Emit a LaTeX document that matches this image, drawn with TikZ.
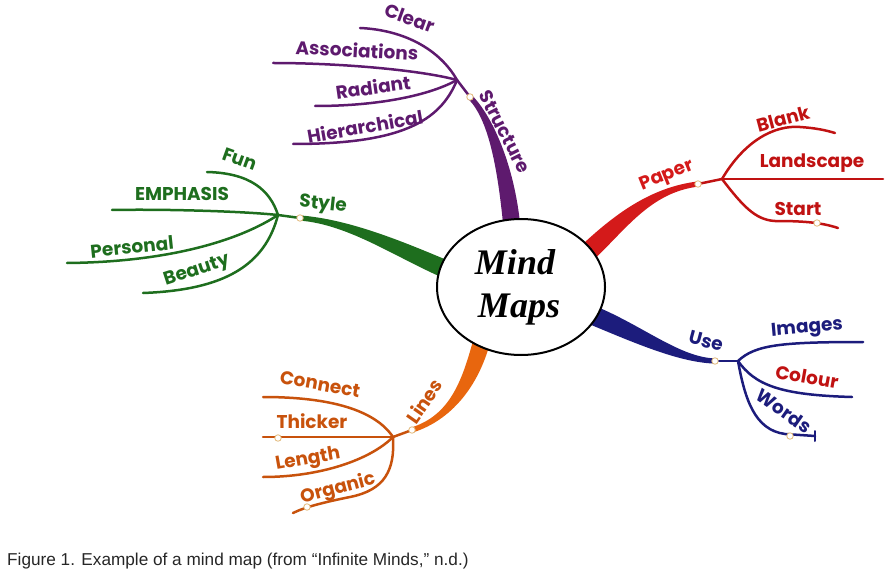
\documentclass[tikz,border=0pt]{standalone}
\usepackage{fontspec}
\setmainfont{Liberation Serif}
\newfontfamily\hand{Poppins}
\newfontfamily\capfont{Liberation Sans}
\usetikzlibrary{calc,shapes.geometric}
\definecolor{cpurple}{HTML}{5E1A6E}
\definecolor{cred}{HTML}{D41A1A}
\definecolor{cdred}{HTML}{C01212}
\definecolor{cgreen}{HTML}{1E6E1E}
\definecolor{cnavy}{HTML}{1C1C7C}
\definecolor{corange}{HTML}{E8660E}
\definecolor{cdorange}{HTML}{C8520C}
\definecolor{cmark}{HTML}{E2B878}
\newcommand\taper[7]{%
 \fill[#1] ($(#2)!#6!90:(#3)$) .. controls ($(#3)!#6!-90:(#2)$) and ($(#4)!#7!90:(#5)$) .. ($(#5)!#7!-90:(#4)$)
   -- ($(#5)!#7!90:(#4)$) .. controls ($(#4)!#7!-90:(#5)$) and ($(#3)!#6!90:(#2)$) .. ($(#2)!#6!-90:(#3)$) -- cycle;}
\tikzset{
  sub/.style={line width=2.5pt, line cap=round},
  lab/.style={font=\hand\bfseries\fontsize{18.5}{18.5}\selectfont, inner sep=0pt},
  marker/.style={circle, fill=white, draw=cmark, line width=0.8pt, minimum size=6.5pt, inner sep=0pt},
}
\begin{document}
\begin{tikzpicture}[x=1pt,y=-1pt]
\useasboundingbox (0,0) rectangle (891,572);
% ---------- coordinates ----------
\coordinate (stS) at (512,228); \coordinate (stM) at (470,97); \coordinate (stJ) at (457,80);
\coordinate (paS) at (585,255); \coordinate (paM) at (698,184); \coordinate (paJ) at (722,179);
\coordinate (syS) at (452,272); \coordinate (syM) at (300,218); \coordinate (syJ) at (278,215);
\coordinate (usS) at (592,315); \coordinate (usM) at (715,361); \coordinate (usJ) at (738,361);
\coordinate (liS) at (482,340); \coordinate (liM) at (412,430); \coordinate (liJ) at (393,437);
\coordinate (sc1) at (506,165); \coordinate (sc2) at (490,117);
\coordinate (pc1) at (620,222); \coordinate (pc2) at (650,190);
\coordinate (yc1) at (400,250); \coordinate (yc2) at (350,222);
\coordinate (uc1) at (640,335); \coordinate (uc2) at (680,360);
\coordinate (lc1) at (470,385); \coordinate (lc2) at (450,418);
% ---------- trunks ----------
\taper{cpurple}{stS}{sc1}{sc2}{stM}{8.5pt}{2.6pt}
\taper{cred}{paS}{pc1}{pc2}{paM}{9.5pt}{2.6pt}
\taper{cgreen}{syS}{yc1}{yc2}{syM}{9pt}{2.6pt}
\taper{cnavy}{usS}{uc1}{uc2}{usM}{9.5pt}{2.6pt}
\taper{corange}{liS}{lc1}{lc2}{liM}{8.5pt}{2.6pt}
% ---------- Structure ----------
\begin{scope}[sub, draw=cpurple]
\draw (stM) -- (stJ);
\coordinate (eClear) at (360,28); \coordinate (eAssoc) at (273,63);
\coordinate (eRad) at (315,106); \coordinate (eHier) at (293,144);
\draw (stJ) .. controls (440,50) and (405,30) .. (eClear);
\draw (stJ) .. controls (420,70) and (340,63) .. (eAssoc);
\draw (stJ) .. controls (430,95) and (380,106) .. (eRad);
\draw (stJ) .. controls (440,122) and (400,144) .. (eHier);
\end{scope}
% ---------- Paper ----------
\begin{scope}[sub, draw=cdred]
\draw (paM) -- (paJ);
\coordinate (eBlank) at (835,133); \coordinate (eLand) at (883,179); \coordinate (eStart) at (838,228);
\draw (paJ) .. controls (745,140) and (775,125) .. (800,127) .. controls (815,128) and (825,130) .. (eBlank);
\draw (paJ) -- (eLand);
\draw (paJ) .. controls (742,205) and (755,220) .. (775,221) .. controls (800,221) and (820,222) .. (eStart);
\end{scope}
% ---------- Style ----------
\begin{scope}[sub, draw=cgreen]
\draw (syM) -- (syJ);
\coordinate (eFun) at (207,172); \coordinate (eEmph) at (112,210);
\coordinate (ePers) at (67,263); \coordinate (eBeau) at (143,293);
\draw (syJ) .. controls (270,190) and (250,173) .. (eFun);
\draw (syJ) .. controls (240,211) and (160,209) .. (eEmph);
\draw (syJ) .. controls (240,240) and (170,262) .. (ePers);
\draw (syJ) .. controls (265,265) and (225,290) .. (eBeau);
\end{scope}
% ---------- Use ----------
\begin{scope}[sub, draw=cnavy]
\draw (usM) -- (usJ);
\coordinate (eImg) at (863,342); \coordinate (eCol) at (852,397); \coordinate (eWor) at (815,436);
\draw (usJ) .. controls (755,345) and (780,342) .. (eImg);
\draw (usJ) .. controls (755,385) and (780,395) .. (eCol);
\draw (usJ) .. controls (745,400) and (755,430) .. (785,434) -- (eWor);
\draw[line width=2pt] (815,431) -- (815,441);
\end{scope}
% ---------- Lines ----------
\begin{scope}[sub, draw=cdorange]
\draw (liM) -- (liJ);
\coordinate (eCon) at (263,397); \coordinate (eThi) at (263,437);
\coordinate (eLen) at (263,477); \coordinate (eOrg) at (293,513);
\draw (liJ) .. controls (375,410) and (330,397) .. (eCon);
\draw (liJ) -- (eThi);
\draw (liJ) .. controls (370,460) and (320,477) .. (eLen);
\draw (liJ) .. controls (395,470) and (385,490) .. (350,497) .. controls (325,502) and (305,507) .. (eOrg);
\end{scope}
% ---------- markers ----------
\foreach \n/\p in {m1/{(470,97)}, m2/{(698,184)}, m3/{(300,218)}, m4/{(715,361)}, m5/{(412,430)},
                   m6/{(817,223)}, m7/{(790,436)}, m8/{(278,438)}, m9/{(307,507)}}
  \node[marker] (\n) at \p {};
% ---------- centre ----------
\node[ellipse, draw=black, line width=2pt, fill=white, minimum width=168pt, minimum height=136pt] (centre) at (521,287) {};
\node[font=\bfseries\itshape\fontsize{36}{36}\selectfont, inner sep=0pt] (tMind) at (515,262) {Mind};
\node[font=\bfseries\itshape\fontsize{36}{36}\selectfont, inner sep=0pt] (tMaps) at (519,310) {Maps};
% ---------- labels ----------
\begin{scope}[lab, text=cpurple]
\node[rotate=-20] (lClear) at (410,18) {Clear};
\node[rotate=-3] (lAssoc) at (357,50) {Associations};
\node[rotate=8] (lRad) at (373,87) {Radiant};
\node[rotate=10] (lHier) at (365,126) {Hierarchical};
\node[rotate=-63] (lStruct) at (505,132) {Structure};
\end{scope}
\begin{scope}[lab, text=cdred]
\node[rotate=22, text=cred] (lPaper) at (667,176) {Paper};
\node[rotate=15] (lBlank) at (783,119) {Blank};
\node (lLand) at (812,163) {Landscape};
\node (lStart) at (798,209) {Start};
\end{scope}
\begin{scope}[lab, text=cgreen]
\node[rotate=-20] (lFun) at (240,159) {Fun};
\node (lEmph) at (182,194) {EMPHASIS};
\node[rotate=6] (lPers) at (132,247) {Personal};
\node[rotate=18] (lBeau) at (197,271) {Beauty};
\node[rotate=-6] (lStyle) at (323,205) {Style};
\end{scope}
\begin{scope}[lab, text=cnavy]
\node[rotate=-15] (lUse) at (706,341) {Use};
\node[rotate=5] (lImg) at (807,329) {Images};
\node[rotate=-10, text=cdred] (lCol) at (807,377) {Colour};
\node[rotate=-35] (lWords) at (784,411) {Words};
\end{scope}
\begin{scope}[lab, text=cdorange]
\node[rotate=-10] (lCon) at (320,384) {Connect};
\node (lThi) at (312,421) {Thicker};
\node[rotate=10] (lLen) at (308,460) {Length};
\node[rotate=15] (lOrg) at (338,489) {Organic};
\node[rotate=55] (lLines) at (424,401) {Lines};
\end{scope}
% ---------- caption ----------
\node[anchor=base west, inner sep=0pt, font=\capfont\fontsize{17.2}{17.2}\selectfont, text=black!85] (cap) at (7,565)
  {Figure 1. Example of a mind map (from “Infinite Minds,” n.d.)};
\end{tikzpicture}
\end{document}
